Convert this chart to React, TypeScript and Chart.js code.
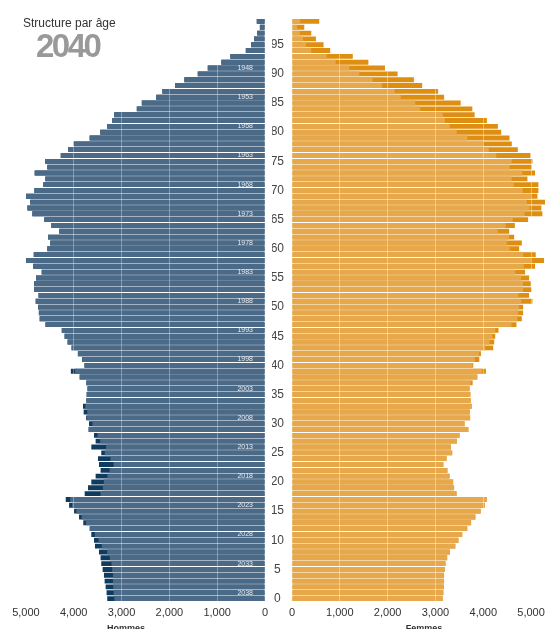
import React, { useEffect, useRef } from 'react';
import { Chart, registerables } from 'chart.js';

Chart.register(...registerables);

// Âges 0 à 99 (du bas vers le haut)
const AGES = [
  0, 1, 2, 3, 4, 5, 6, 7, 8, 9,
  10, 11, 12, 13, 14, 15, 16, 17, 18, 19,
  20, 21, 22, 23, 24, 25, 26, 27, 28, 29,
  30, 31, 32, 33, 34, 35, 36, 37, 38, 39,
  40, 41, 42, 43, 44, 45, 46, 47, 48, 49,
  50, 51, 52, 53, 54, 55, 56, 57, 58, 59,
  60, 61, 62, 63, 64, 65, 66, 67, 68, 69,
  70, 71, 72, 73, 74, 75, 76, 77, 78, 79,
  80, 81, 82, 83, 84, 85, 86, 87, 88, 89,
  90, 91, 92, 93, 94, 95, 96, 97, 98, 99,
];

// Partie commune (minimum hommes / femmes), teinte claire
const COMMUN = [
  3150, 3165, 3175, 3180, 3180, 3195, 3210, 3245, 3300, 3415,
  3480, 3560, 3665, 3745, 3835, 3945, 4035, 4072, 3440, 3390,
  3370, 3295, 3250, 3165, 3232, 3350, 3323, 3448, 3503, 3688,
  3608, 3725, 3718, 3757, 3736, 3729, 3712, 3736, 3875, 3975,
  3775, 3823, 3913, 4045, 4128, 4191, 4250, 4590, 4712, 4729,
  4746, 4795, 4736, 4830, 4830, 4788, 4670, 4847, 4996, 4836,
  4552, 4490, 4538, 4302, 4468, 4615, 4865, 4968, 4910, 4996,
  4822, 4636, 4594, 4816, 4552, 4597, 4271, 4115, 4000, 3667,
  3445, 3299, 3194, 3153, 2681, 2576, 2274, 2146, 1878, 1686,
  1406, 1197, 912, 724, 401, 290, 230, 162, 107, 172,
];

// Hommes
const HOMMES = [
  3299, 3313, 3333, 3354, 3368, 3396, 3424, 3438, 3472, 3556,
  3576, 3632, 3665, 3800, 3889, 3993, 4097, 4167, 3771, 3701,
  3632, 3542, 3438, 3472, 3493, 3424, 3632, 3542, 3576, 3688,
  3681, 3740, 3792, 3806, 3736, 3729, 3712, 3736, 3875, 4060,
  3775, 3823, 3913, 4045, 4128, 4191, 4250, 4590, 4712, 4729,
  4746, 4795, 4736, 4830, 4830, 4788, 4670, 4847, 4996, 4836,
  4552, 4490, 4538, 4302, 4468, 4615, 4865, 4968, 4910, 4996,
  4822, 4636, 4594, 4816, 4552, 4597, 4271, 4115, 4000, 3667,
  3445, 3299, 3194, 3153, 2681, 2576, 2274, 2146, 1878, 1686,
  1406, 1197, 912, 724, 401, 290, 230, 162, 107, 172,
];

// Femmes
const FEMMES = [
  3150, 3165, 3175, 3180, 3180, 3195, 3210, 3245, 3300, 3415,
  3480, 3560, 3665, 3745, 3835, 3945, 4035, 4072, 3440, 3390,
  3370, 3295, 3250, 3165, 3232, 3350, 3323, 3448, 3503, 3688,
  3608, 3725, 3718, 3757, 3736, 3729, 3712, 3778, 3875, 4056,
  3790, 3917, 3951, 4208, 4229, 4250, 4319, 4694, 4806, 4833,
  4833, 5028, 4958, 5007, 4993, 4958, 4875, 5083, 5271, 5097,
  4750, 4806, 4646, 4542, 4660, 4938, 5236, 5215, 5300, 5132,
  5153, 5153, 4924, 5083, 5014, 5028, 4986, 4722, 4597, 4549,
  4375, 4306, 4076, 3819, 3771, 3528, 3181, 3056, 2722, 2549,
  2208, 1944, 1597, 1271, 799, 660, 500, 403, 257, 569,
];

const X_TICKS = [0, 1000, 2000, 3000, 4000, 5000];
const X_MAX = 5500;
const ANNEE_REF = 2039;
const ANNEES = AGES.map((a) => String(ANNEE_REF - a));
const TITRE = 'Structure par âge';
const ANNEE_TITRE = '2040';

const FONT = '"Liberation Sans", Arial, Helvetica, sans-serif';
const H_CLAIR = '#4b6a88';
const H_FONCE = '#0f3b5f';
const F_CLAIR = '#e6a84b';
const F_FONCE = '#de8e10';

function xScale(reverse: boolean, gridColor: string) {
  return {
    type: 'linear',
    reverse,
    min: 0,
    max: X_MAX,
    afterBuildTicks: (s: any) => {
      s.ticks = X_TICKS.map((v) => ({ value: v }));
    },
    afterFit: (s: any) => {
      s.height = 27.5;
    },
    grid: {
      z: 1,
      color: (ctx: any) => (ctx.tick && ctx.tick.value === 0 ? 'rgba(0,0,0,0)' : gridColor),
      drawTicks: false,
      lineWidth: 1,
    },
    border: { display: false },
    ticks: {
      padding: 5,
      color: '#333',
      maxRotation: 0,
      autoSkip: false,
      font: { size: 11, family: FONT },
      callback: (v: any) => Number(v).toLocaleString('en-US'),
    },
  };
}

function PyramidSide({ side }: { side: 'H' | 'F' }) {
  const ref = useRef<HTMLCanvasElement>(null);
  useEffect(() => {
    if (!ref.current) return;
    const isH = side === 'H';
    const chart = new Chart(ref.current, {
      type: 'bar',
      data: {
        labels: isH ? ANNEES : AGES.map(String),
        datasets: [
          {
            label: 'Commun',
            data: COMMUN,
            backgroundColor: isH ? H_CLAIR : F_CLAIR,
            order: 0,
          },
          {
            label: isH ? 'Hommes' : 'Femmes',
            data: isH ? HOMMES : FEMMES,
            backgroundColor: isH ? H_FONCE : F_FONCE,
            order: 1,
          },
        ],
      },
      options: {
        indexAxis: 'y',
        responsive: false,
        animation: false,
        layout: {
          padding: isH
            ? { left: 2, right: 7, top: 18.5, bottom: 0 }
            : { left: 0, right: 7, top: 18.5, bottom: 0 },
        },
        plugins: {
          legend: { display: false },
          tooltip: { enabled: false },
        },
        datasets: {
          bar: { grouped: false, barPercentage: 0.84, categoryPercentage: 1 },
        },
        scales: {
          x: xScale(isH, isH ? 'rgba(255,255,255,0.32)' : 'rgba(255,255,255,0.38)') as any,
          y: isH
            ? {
                type: 'category',
                position: 'right',
                reverse: true,
                afterFit: (s: any) => {
                  s.width = 0;
                },
                grid: { display: false, drawTicks: false },
                border: { display: false },
                ticks: {
                  z: 2,
                  mirror: true,
                  padding: -12,
                  autoSkip: false,
                  color: 'rgba(255,255,255,0.85)',
                  font: { size: 7, family: FONT },
                  callback: (v: any) => {
                    const l = ANNEES[v];
                    return Number(l) % 5 === 3 ? l : '';
                  },
                },
              }
            : {
                type: 'category',
                position: 'left',
                reverse: true,
                afterFit: (s: any) => {
                  s.width = 20;
                },
                grid: { display: false, drawTicks: false },
                border: { display: false },
                ticks: {
                  padding: 8,
                  crossAlign: 'center',
                  autoSkip: false,
                  color: '#444',
                  font: { size: 12, family: FONT },
                  callback: (v: any) => (AGES[v] % 5 === 0 ? String(AGES[v]) : ''),
                },
              },
        },
      } as any,
    });
    return () => chart.destroy();
  }, [side]);
  const w = side === 'H' ? 272 : 290;
  return (
    <canvas
      ref={ref}
      width={w}
      height={629}
      style={{
        position: 'absolute',
        left: side === 'H' ? 0 : 272,
        top: 0,
        width: w,
        height: 629,
      }}
    />
  );
}

export default function App() {
  return (
    <div
      style={{
        position: 'fixed',
        left: 0,
        top: 0,
        width: 545,
        height: 629,
        overflow: 'hidden',
        background: '#fff',
        fontFamily: FONT,
      }}
    >
      <PyramidSide side="H" />
      <PyramidSide side="F" />
      <div
        style={{
          position: 'absolute',
          left: 23,
          top: 17,
          fontSize: 12,
          lineHeight: 1,
          color: '#333',
          whiteSpace: 'nowrap',
        }}
      >
        {TITRE}
      </div>
      <div
        style={{
          position: 'absolute',
          left: 36,
          top: 29,
          fontSize: 33,
          fontWeight: 'bold',
          letterSpacing: -2.5,
          lineHeight: 1,
          color: '#999',
        }}
      >
        {ANNEE_TITRE}
      </div>
      <div
        style={{
          position: 'absolute',
          left: 96,
          top: 623.5,
          width: 60,
          textAlign: 'center',
          fontSize: 9,
          fontWeight: 'bold',
          lineHeight: 1,
          color: '#333',
        }}
      >
        Hommes
      </div>
      <div
        style={{
          position: 'absolute',
          left: 394,
          top: 623.5,
          width: 60,
          textAlign: 'center',
          fontSize: 9,
          fontWeight: 'bold',
          lineHeight: 1,
          color: '#333',
        }}
      >
        Femmes
      </div>
    </div>
  );
}
